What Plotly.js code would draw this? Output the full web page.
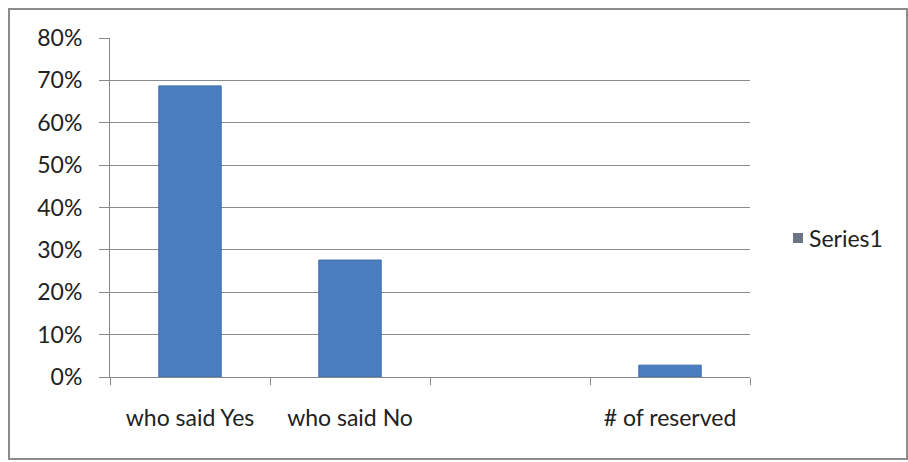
<!DOCTYPE html>
<html>
<head>
<meta charset="utf-8">
<script src="https://cdn.plot.ly/plotly-3.0.1.min.js"></script>
<style>html,body{margin:0;padding:0;background:#fff;}#chart{width:908px;height:462px;}</style>
</head>
<body>
<div id="chart"></div>
<script>
const categories = ['who said Yes', 'who said No', ' ', '# of reserved'];
const values = [0.687, 0.276, null, 0.028];
const seriesName = 'Series1';
const yTickVals = [0, 0.1, 0.2, 0.3, 0.4, 0.5, 0.6, 0.7, 0.8];

const L = 110, T = 38, PW = 640, PH = 339;
const px = x => (x - L) / PW;
const py = y => (T + PH - y) / PH;
const FS = 23;

const traces = [
  {
    type: 'bar', x: categories, y: values, name: seriesName, showlegend: false,
    marker: {color: '#4A7EC0', line: {color: '#3F6DA8', width: 1}},
    hoverinfo: 'x+y'
  }
];

const layout = {
  width: 908, height: 462,
  margin: {l: L, r: 908 - L - PW, t: T, b: 462 - T - PH, pad: 0},
  paper_bgcolor: '#fff', plot_bgcolor: '#fff',
  font: {family: 'Lato, "Open Sans", sans-serif', size: FS, color: '#222'},
  bargap: 0.61,
  showlegend: false,
  xaxis: {
    type: 'category', categoryorder: 'array', categoryarray: categories,
    tickson: 'boundaries', ticks: 'outside', ticklen: 7, tickcolor: '#888', tickwidth: 1,
    showgrid: false, showline: true, linecolor: '#888', linewidth: 1,
    tickfont: {size: FS, color: '#222'}, ticklabelstandoff: 20,
    fixedrange: true
  },
  yaxis: {
    range: [0, 0.8], tickvals: yTickVals, tickformat: '.0%',
    showgrid: true, gridcolor: '#8a8a8a', gridwidth: 1,
    ticks: 'outside', ticklen: 10, tickcolor: '#8a8a8a',
    showline: true, linecolor: '#888', linewidth: 1,
    zeroline: false, tickfont: {size: FS, color: '#222'}, ticklabelstandoff: 12,
    fixedrange: true
  },
  annotations: [
    {xref: 'paper', yref: 'paper', x: px(807), y: py(238), xanchor: 'left', yanchor: 'middle',
     text: seriesName, showarrow: false, font: {size: FS, color: '#222'}}
  ],
  shapes: [
    {type: 'rect', xref: 'paper', yref: 'paper', x0: px(9), x1: px(907), y0: py(459), y1: py(9),
     line: {color: '#8c8c8c', width: 2}, fillcolor: 'rgba(0,0,0,0)', layer: 'below'},
    {type: 'rect', xref: 'paper', yref: 'paper', x0: px(793), x1: px(803), y0: py(243), y1: py(233),
     line: {width: 0}, fillcolor: '#6B7586'}
  ]
};

Plotly.newPlot('chart', traces, layout, {displayModeBar: false, staticPlot: true});
</script>
</body>
</html>
